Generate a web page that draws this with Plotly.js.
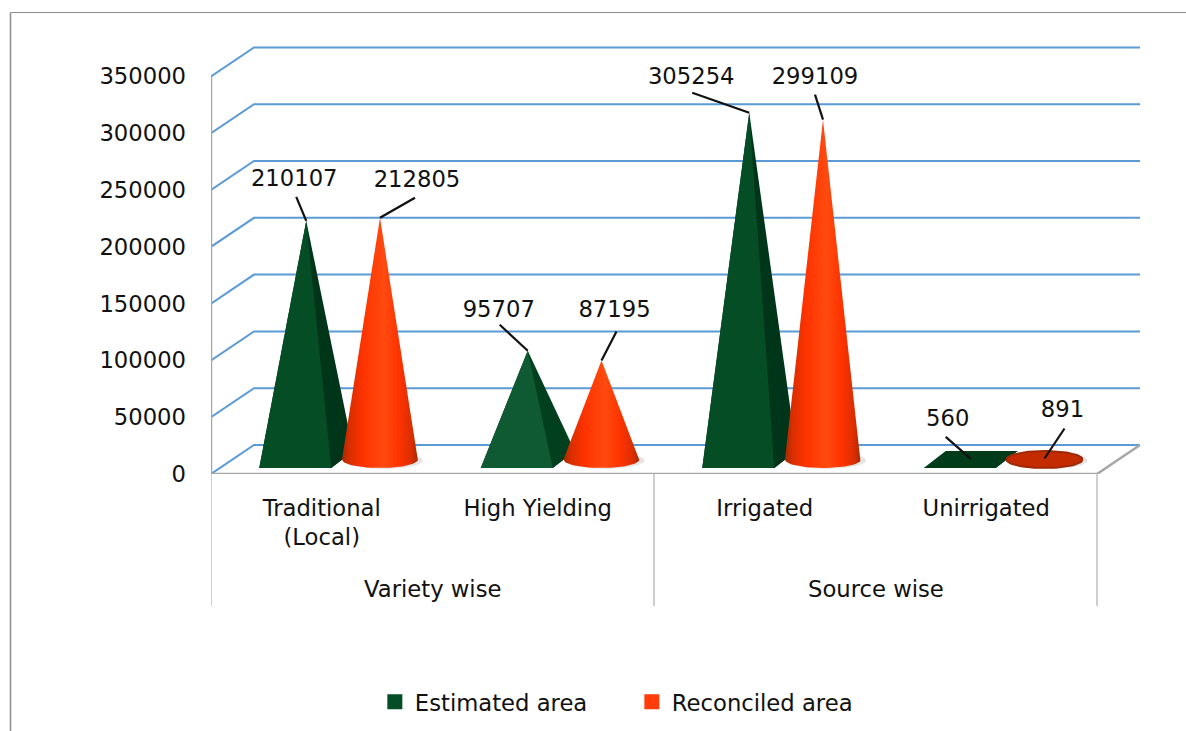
<!DOCTYPE html>
<html>
<head>
<meta charset="utf-8">
<script src="https://cdn.plot.ly/plotly-3.0.1.min.js"></script>
<style>html,body{margin:0;padding:0;background:#fff}#chart{width:1186px;height:731px}</style>
</head>
<body>
<div id="chart"></div>
<script>
// ---- data ----
const categories = ['Traditional<br>(Local)', 'High Yielding', 'Irrigated', 'Unirrigated'];
const groups = ['Variety wise', 'Source wise'];
const estimatedArea = [210107, 95707, 305254, 560];
const reconciledArea = [212805, 87195, 299109, 891];
const yTicks = [0, 50000, 100000, 150000, 200000, 250000, 300000, 350000];

// ---- pseudo-3D geometry (pixels per axis unit) ----
const W = 1186, H = 731;
const M = {l: 211, r: 44, t: 45, b: 257, autoexpand: false};
const PX_CAT = 221.5, PX_VAL = 56.8 / 50000;
const px = p => p / PX_CAT;            // pixels -> x units
const py = p => p / PX_VAL;            // pixels -> y units
const DX = px(43), DY = py(29);        // wall depth
const FLOOR = py(14.5);                // marks stand half-way across the floor
const EST_POS = 0.43, REC_POS = 0.763;
const FS = 22.7;

const traces = [];
function line(x, y, color, width) {
  traces.push({type: 'scatter', mode: 'lines', x, y, showlegend: false, hoverinfo: 'skip',
    line: {color, width}, cliponaxis: false});
}
function poly(x, y, color, extra) {
  traces.push(Object.assign({type: 'scatter', mode: 'lines', x, y, fill: 'toself', fillcolor: color,
    line: {width: 0, color}, showlegend: false, hoverinfo: 'skip', cliponaxis: false}, extra || {}));
}

// walls
const gx = [], gy = [];
yTicks.forEach(v => { gx.push(0, DX, 4 + DX, null); gy.push(v, v + DY, v + DY, null); });
line(gx, gy, '#5B9BD5', 2);
line([0, 0], [0, yTicks[yTicks.length - 1]], '#A6A6A6', 2.5);
line([0, 4, 4 + DX], [0, 0, DY], '#A6A6A6', 2.5);

// pyramids
const frontColors = ['#054D25', '#0F5A32', '#054D25', '#003B1A'];
const sideColors = ['#00351A', '#00401F', '#00351A', '#003B1A'];
estimatedArea.forEach((v, i) => {
  const c = i + EST_POS, far = px(47), near = px(25), d = py(8.5);
  const tip = [c, v + FLOOR];
  const fl = [c - far, FLOOR - d], fr = [c + near, FLOOR - d], br = [c + far, FLOOR + d], bl = [c - near, FLOOR + d];
  poly([fl[0], fr[0], br[0], bl[0], fl[0]], [fl[1], fr[1], br[1], bl[1], fl[1]], sideColors[i]);
  poly([tip[0], fl[0], fr[0], br[0], tip[0]], [tip[1], fl[1], fr[1], br[1], tip[1]], sideColors[i]);
  poly([tip[0], fl[0], fr[0], tip[0]], [tip[1], fl[1], fr[1], tip[1]], frontColors[i]);
});

// cones
const coneScale = [[0, '#A82A00'], [0.1, '#D92E00'], [0.28, '#FF3300'], [0.55, '#FF4A10'],
                   [0.75, '#FF3300'], [0.92, '#D92E00'], [1, '#A82A00']];
reconciledArea.forEach((v, i) => {
  const c = i + REC_POS, rx = 38, ry = 8.5;
  const xs = [], ys = [];
  // soft ground shadow
  const sx = [], sy = [];
  for (let a = 0; a <= 72; a++) {
    sx.push(c + px(3 + (rx + 2) * Math.cos(a * Math.PI / 36)));
    sy.push(FLOOR + py(-1 + ry * Math.sin(a * Math.PI / 36)));
  }
  poly(sx, sy, 'rgba(0,0,0,0.10)');
  if (v * PX_VAL < ry * 2) {            // nearly flat: only the base disc shows
    for (let a = 0; a <= 72; a++) {
      xs.push(c + px(rx * Math.cos(a * Math.PI / 36)));
      ys.push(FLOOR + py(ry * Math.sin(a * Math.PI / 36)));
    }
    traces.push({type: 'scatter', mode: 'lines', x: xs, y: ys, fill: 'toself', fillcolor: '#C42B00',
      line: {color: '#9E2A05', width: 2}, showlegend: false, hoverinfo: 'skip', cliponaxis: false});
  } else {
    xs.push(c); ys.push(v + FLOOR);
    for (let a = 0; a <= 36; a++) {
      xs.push(c + px(rx * Math.cos(a * Math.PI / 36)));
      ys.push(FLOOR - py(ry * Math.sin(a * Math.PI / 36)));
    }
    xs.push(c); ys.push(v + FLOOR);
    poly(xs, ys, '#FF3800', {fillgradient: {type: 'horizontal', colorscale: coneScale}});
  }
});

// value labels with leader lines
const estTail = [[-10, -24], [-28, -26], [-57, -20], [-25, -22]];
const recTail = [[35, -20], [15, -29], [-8, -25], [20, -30]];
const estText = [[-12, -40.5], [-29, -39.5], [-58, -34.5], [-23, -39]];
const recText = [[37, -36], [13, -49], [-8, -41.5], [18, -47]];
[[estimatedArea, EST_POS, estTail, estText], [reconciledArea, REC_POS, recTail, recText]].forEach(([vals, pos, tail, txt]) => {
  const lx = [], ly = [], tx = [], ty = [], tt = [];
  vals.forEach((v, i) => {
    const c = i + pos, t = v + FLOOR;
    lx.push(c, c + px(tail[i][0]), null);
    ly.push(t, t - py(tail[i][1]), null);
    tx.push(c + px(txt[i][0])); ty.push(t - py(txt[i][1])); tt.push(String(v));
  });
  line(lx, ly, '#111111', 2.2);
  traces.push({type: 'scatter', mode: 'text', x: tx, y: ty, text: tt, textposition: 'middle center',
    textfont: {size: FS, color: '#111111'}, showlegend: false, hoverinfo: 'skip', cliponaxis: false});
});

// legend keys
traces.push({type: 'scatter', mode: 'markers', x: [null], y: [null], name: 'Estimated area',
  marker: {symbol: 'square', size: 15, color: '#054D25'}});
traces.push({type: 'scatter', mode: 'markers', x: [null], y: [null], name: 'Reconciled area',
  marker: {symbol: 'square', size: 15, color: '#FF3D0A'}});

const plotH = H - M.t - M.b;
const dropTo = -(606 - 474) / plotH;
const sep = x => ({type: 'line', xref: 'x', yref: 'paper', x0: x, x1: x, y0: 0, y1: dropTo,
  line: {color: '#BFBFBF', width: 1.5}});
const frame = [
  {type: 'line', xref: 'paper', yref: 'paper', x0: -(M.l - 10.5) / (W - M.l - M.r), x1: (W - M.l) / (W - M.l - M.r),
    y0: (H - M.b - 12.5) / plotH, y1: (H - M.b - 12.5) / plotH, line: {color: '#8C8C8C', width: 1.2}},
  {type: 'line', xref: 'paper', yref: 'paper', x0: -(M.l - 10.5) / (W - M.l - M.r), x1: -(M.l - 10.5) / (W - M.l - M.r),
    y0: (H - M.b - 12.5) / plotH, y1: -M.b / plotH, line: {color: '#8C8C8C', width: 1.5}}
];

const layout = {
  width: W, height: H, margin: M, paper_bgcolor: '#ffffff', plot_bgcolor: 'rgba(0,0,0,0)',
  font: {family: '"DejaVu Sans", sans-serif', size: FS, color: '#111111'},
  showlegend: true,
  legend: {orientation: 'h', x: 0.176, xanchor: 'left', y: -(703 - 474 - 22.5) / plotH, yanchor: 'top',
    entrywidth: 212, entrywidthmode: 'pixels', itemclick: false, itemdoubleclick: false, font: {size: FS}},
  xaxis: {range: [0, (W - M.l - M.r) / PX_CAT], tickmode: 'array', tickvals: [0.5, 1.475, 2.5, 3.5],
    ticktext: categories, showgrid: false, zeroline: false, showline: false, ticks: '', ticklabelstandoff: 18,
    tickfont: {size: FS, color: '#111111'}, automargin: false},
  yaxis: {range: [0, plotH / PX_VAL], tickmode: 'array', tickvals: yTicks, ticktext: yTicks.map(String),
    showgrid: false, zeroline: false, showline: false, ticks: '', ticklabelstandoff: 24,
    tickfont: {size: FS, color: '#111111'}, automargin: false},
  shapes: [sep(0), sep(2), sep(4)].concat(frame),
  annotations: groups.map((g, i) => ({text: g, xref: 'x', yref: 'paper', x: 1 + 2 * i, y: -(589 - 474) / plotH,
    showarrow: false, xanchor: 'center', yanchor: 'middle', font: {size: FS, color: '#111111'}}))
};
Plotly.newPlot('chart', traces, layout, {displayModeBar: false, staticPlot: true});
</script>
</body>
</html>
